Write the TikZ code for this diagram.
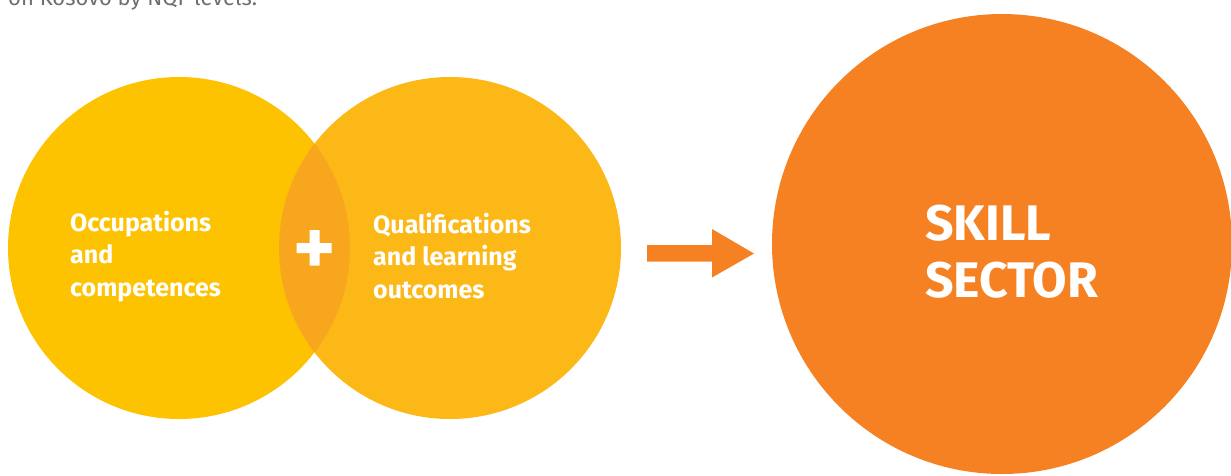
\documentclass[tikz,border=0pt]{standalone}
\usepackage{fontspec}
\setmainfont{Fira Sans}
\usetikzlibrary{positioning}
\definecolor{occyellow}{HTML}{FDC300}
\definecolor{qualyellow}{HTML}{FBB817}
\definecolor{lensorange}{HTML}{F9A61F}
\definecolor{skillorange}{HTML}{F68122}
\definecolor{captiongray}{HTML}{6D6E71}
\tikzset{
    bubble/.style = {circle, inner sep=0pt},
    bubbletext/.style = {anchor=base west, align=left, text=white, inner sep=0pt,
        font=\bfseries\fontsize{25}{32.5}\selectfont},
    bigtext/.style = {anchor=base west, align=left, text=white, inner sep=0pt,
        font=\bfseries\fontsize{50}{57}\selectfont}
}

\begin{document}
\begin{tikzpicture}[x=1pt, y=-1pt]
                \useasboundingbox (0,0) rectangle (1231,475);
                % caption cut off at the top
                \node (caption) [anchor=base west, inner sep=0pt, text=captiongray,
                    font=\fontsize{22}{26}\selectfont] at (8,5) {on Kosovo by NQF levels.};
                % the two circles and their overlap
                \node (occ) [bubble, fill=occyellow, minimum size=342pt] at (179,248) {};
                \node (qual) [bubble, fill=qualyellow, minimum size=342pt] at (450,248) {};
                \begin{scope}
                    \clip (occ.center) circle (171);
                    \fill[lensorange] (qual.center) circle (171);
                \end{scope}
                \fill[white] (296.5,243) rectangle (331.5,253)
                    (309.5,230) rectangle (319.5,265.5);
                % base anchor sits on the last line
                \node (occtext) [bubbletext] at (70,296) {Occupations\\and\\competences};
                \node (qualtext) [bubbletext] at (373,298) {Qualifications\\and learning\\outcomes};
                % arrow and skill sector
                \coordinate (arrowtail) at (647,253.5);
                \coordinate (arrowtip) at (754,253.5);
                \fill[skillorange] (arrowtail) ++(0,-8.5) -- ++(65,0) -- ++(0,-16) -- (arrowtip)
                    -- ++(-42,24) -- ++(0,-16) -- ++(-65,0) -- cycle;
                \node (skill) [bubble, fill=skillorange, minimum size=460pt] at (1002,244) {};
                \node (skilltext) [bigtext] at (925,297) {SKILL\\SECTOR};
\end{tikzpicture}
\end{document}
